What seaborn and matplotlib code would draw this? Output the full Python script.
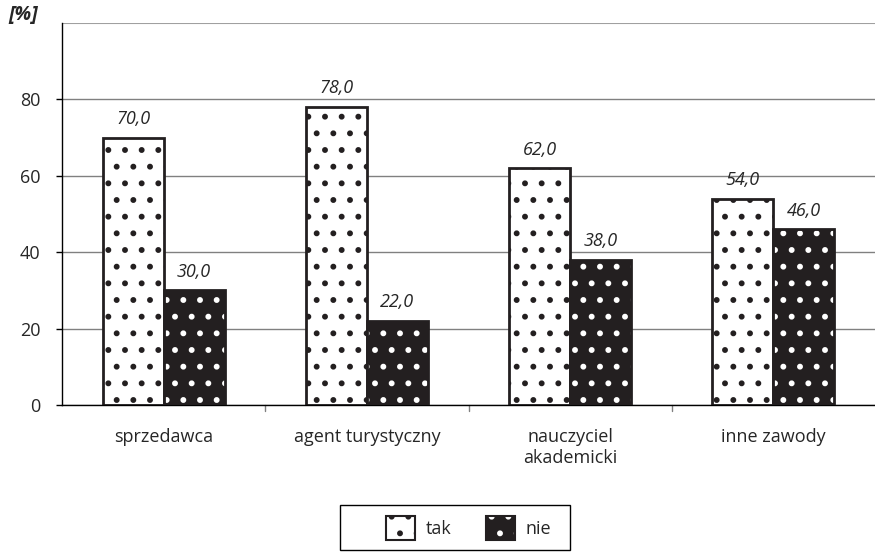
import numpy as np
import pandas as pd
import seaborn as sns
import matplotlib.pyplot as plt
from matplotlib.patches import Patch, Rectangle
from matplotlib.legend_handler import HandlerTuple

categories = ['sprzedawca', 'agent turystyczny', 'nauczyciel\nakademicki', 'inne zawody']
tak = [70.0, 78.0, 62.0, 54.0]
nie = [30.0, 22.0, 38.0, 46.0]
series = ['tak', 'nie']

df = pd.DataFrame({
    'kategoria': categories * 2,
    'odpowiedz': ['tak'] * 4 + ['nie'] * 4,
    'wartosc': tak + nie,
})

sns.set_style('white')
plt.rcParams['font.family'] = ['Open Sans', 'DejaVu Sans']
plt.rcParams['hatch.linewidth'] = 1.8

fig = plt.figure(figsize=(8.75, 5.53), dpi=100)
ax = fig.add_axes([62 / 875, 1 - 405 / 553, 1 - 62 / 875, (405 - 23) / 553])

sns.barplot(data=df, x='kategoria', y='wartosc', hue='odpowiedz', hue_order=series,
            palette=['white', '#231f20'], width=0.6, ax=ax, legend=False,
            saturation=1)

n = len(categories)
for i, p in enumerate(ax.patches[:2 * n]):
    if i < n:
        p.set_facecolor('white')
        p.set_edgecolor('#231f20')
        p.set_hatch('.')
        p.set_linewidth(2)
    else:
        p.set_facecolor('#231f20')
        p.set_edgecolor('white')
        p.set_hatch('.')
        p.set_linewidth(0)
        x, y = p.get_xy()
        ax.bar(x, p.get_height(), width=p.get_width(), align='edge',
               facecolor='none', edgecolor='#231f20', linewidth=2, zorder=3)

for i, c in enumerate(categories):
    ax.text(i - 0.15, tak[i] + 2.5, f'{tak[i]:.1f}'.replace('.', ','),
            ha='center', va='bottom', fontsize=13, style='italic')
    ax.text(i + 0.15, nie[i] + 2.5, f'{nie[i]:.1f}'.replace('.', ','),
            ha='center', va='bottom', fontsize=13, style='italic')

ax.set_ylim(0, 100)
ax.set_xlim(-0.5, n - 0.5)
ax.set_yticks([0, 20, 40, 60, 80])
ax.yaxis.grid(True, color='#808080', linewidth=1)
ax.set_axisbelow(True)
ax.axhline(100, color='#a0a0a0', linewidth=1.5, zorder=1)
ax.set_xlabel('')
ax.set_ylabel('')
for s in ['top', 'right']:
    ax.spines[s].set_visible(False)
ax.spines['left'].set_color('black')
ax.spines['bottom'].set_color('black')
ax.spines['left'].set_linewidth(1)
ax.spines['bottom'].set_linewidth(1)
ax.tick_params(axis='y', left=True, length=4.3, width=1, color='black', labelsize=13, pad=11)
ax.tick_params(axis='x', bottom=False, labelsize=13, pad=13)
for b in np.arange(0.5, n - 0.5, 1.0):
    ax.plot([b, b], [0, -1.5], color='#808080', linewidth=1, clip_on=False)

fig.text(8 / 875, 1 - 15 / 553, '[%]', fontsize=14, fontweight='bold', style='italic',
         va='center', ha='left')

# legend frame
fig.add_artist(Rectangle((340 / 875, 1 - 550 / 553), 230 / 875, 45 / 553,
                         transform=fig.transFigure, facecolor='white',
                         edgecolor='black', linewidth=1))
h_tak = Patch(facecolor='white', edgecolor='#231f20', hatch='.', linewidth=1.5)
h_nie = (Patch(facecolor='#231f20', edgecolor='white', hatch='.', linewidth=0),
         Patch(facecolor='none', edgecolor='#231f20', linewidth=1.5))
leg = fig.legend([h_tak, h_nie], series, loc='center', bbox_to_anchor=(469 / 875, 1 - 528 / 553),
                 ncol=2, frameon=False, fontsize=13,
                 handler_map={tuple: HandlerTuple(ndivide=1, pad=0)},
                 handlelength=1.6, handleheight=1.6, columnspacing=1.9, borderpad=0,
                 handletextpad=0.6, borderaxespad=0)

fig.savefig('out.png', dpi=100)
